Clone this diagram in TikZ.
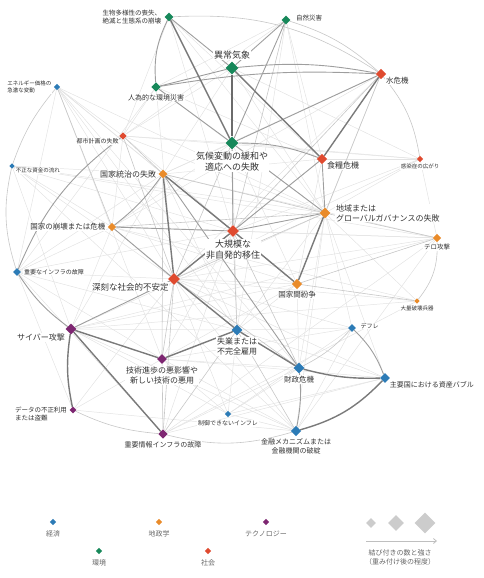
\documentclass[tikz,border=0pt]{standalone}
\usepackage{fontspec}
\setmainfont{Noto Sans CJK JP}
\usetikzlibrary{positioning, arrows.meta, shapes.geometric, backgrounds}
\definecolor{ecoc}{HTML}{2C7BB6}
\definecolor{envc}{HTML}{17885A}
\definecolor{geoc}{HTML}{E98B2A}
\definecolor{socc}{HTML}{DF4A2F}
\definecolor{tecc}{HTML}{7D2671}

\begin{document}
\begin{tikzpicture}[x=1pt, y=1pt,
    risk/.style={diamond, inner sep=0pt, minimum size=#1},
    lab/.style={text=black!80, fill=white, inner sep=0.6pt, align=center},
    keytext/.style={text=black!60, inner sep=0pt, align=center, font=\fontsize{7}{9.5}\selectfont},
    t9/.style={font=\fontsize{9}{11}\selectfont},
    t85/.style={font=\fontsize{8.5}{10.5}\selectfont},
    t8/.style={font=\fontsize{8}{10}\selectfont},
    t75/.style={font=\fontsize{7.5}{9.5}\selectfont},
    t7/.style={font=\fontsize{7}{9}\selectfont},
    t65/.style={font=\fontsize{6.5}{8.5}\selectfont},
    t6/.style={font=\fontsize{6}{8}\selectfont},
    t55/.style={font=\fontsize{5.5}{7.5}\selectfont},
    e1/.style={draw=black!11, line width=0.5pt},
    e2/.style={draw=black!22, line width=0.6pt},
    e3/.style={draw=black!38, line width=0.9pt},
    e4/.style={draw=black!52, line width=1.4pt},
  ]
  \useasboundingbox (0,0) rectangle (483,-578);

  % risks
  \node[risk=9pt, fill=envc]    (bio) at (169,-17)  {};
  \node[risk=9pt, fill=envc]    (nat) at (286,-20)  {};
  \node[risk=13pt, fill=envc]   (wea) at (232,-68)  {};
  \node[risk=9.5pt, fill=envc]  (man) at (156,-87)  {};
  \node[risk=10.5pt, fill=socc] (wat) at (381,-74)  {};
  \node[risk=6.5pt, fill=ecoc]  (ene) at (57,-87)   {};
  \node[risk=7.5pt, fill=socc]  (urb) at (123,-136) {};
  \node[risk=13pt, fill=envc]   (cli) at (232,-143) {};
  \node[risk=10.5pt, fill=socc] (foo) at (322,-159) {};
  \node[risk=6.5pt, fill=socc]  (inf) at (420,-159) {};
  \node[risk=5.5pt, fill=ecoc]  (ill) at (12,-166)  {};
  \node[risk=9pt, fill=geoc]    (gov) at (163,-174) {};
  \node[risk=11pt, fill=geoc]   (glo) at (325,-213) {};
  \node[risk=8.5pt, fill=geoc]  (sta) at (112,-227) {};
  \node[risk=12pt, fill=socc]   (mig) at (233,-231) {};
  \node[risk=8.5pt, fill=geoc]  (ter) at (437,-238) {};
  \node[risk=8pt, fill=ecoc]    (cri) at (17,-272)  {};
  \node[risk=12pt, fill=socc]   (soc) at (174,-279) {};
  \node[risk=10.5pt, fill=geoc] (int) at (297,-284) {};
  \node[risk=5.5pt, fill=geoc]  (wmd) at (417,-301) {};
  \node[risk=8pt, fill=ecoc]    (def) at (352,-328) {};
  \node[risk=11pt, fill=tecc]   (cyb) at (71,-329)  {};
  \node[risk=11pt, fill=ecoc]   (une) at (237,-330) {};
  \node[risk=10pt, fill=tecc]   (tec) at (162,-359) {};
  \node[risk=11pt, fill=ecoc]   (fis) at (299,-368) {};
  \node[risk=10pt, fill=ecoc]   (bub) at (385,-378) {};
  \node[risk=7pt, fill=tecc]    (dat) at (73,-410)  {};
  \node[risk=6.5pt, fill=ecoc]  (uin) at (228,-414) {};
  \node[risk=9.5pt, fill=tecc]  (cii) at (163,-434) {};
  \node[risk=10.5pt, fill=ecoc] (fin) at (296,-431) {};

  % labels
  \node[lab, t65, left=2.5pt of bio, align=right] (bio-l) {生物多様性の喪失、\\絶滅と生態系の崩壊};
  \node[lab, t65, right=4.5pt of nat, yshift=2pt] (nat-l) {自然災害};
  \node[lab, t9, above=1.5pt of wea] (wea-l) {異常気象};
  \node[lab, t7, below=1.5pt of man] (man-l) {人為的な環境災害};
  \node[lab, t75, below right=0pt and 1.5pt of wat] (wat-l) {水危機};
  \node[lab, t55, left=1.5pt of ene, align=left] (ene-l) {エネルギー価格の\\急激な変動};
  \node[lab, t6, below left=0pt and 1.5pt of urb] (urb-l) {都市計画の失敗};
  \node[lab, t9, below=1.5pt of cli] (cli-l) {気候変動の緩和や\\適応への失敗};
  \node[lab, t8, below right=-1pt and 1.5pt of foo] (foo-l) {食糧危機};
  \node[lab, t55, below=1pt of inf] (inf-l) {感染症の広がり};
  \node[lab, t55, below right=0pt and 1.5pt of ill] (ill-l) {不正な資金の流れ};
  \node[lab, t8, left=1.5pt of gov] (gov-l) {国家統治の失敗};
  \node[lab, t8, right=4.5pt of glo, align=left] (glo-l) {地域または\\グローバルガバナンスの失敗};
  \node[lab, t75, left=1.5pt of sta] (sta-l) {国家の崩壊または危機};
  \node[lab, t9, below=1.5pt of mig] (mig-l) {大規模な\\非自発的移住};
  \node[lab, t65, below=1pt of ter] (ter-l) {テロ攻撃};
  \node[lab, t6, right=2pt of cri] (cri-l) {重要なインフラの故障};
  \node[lab, t85, below left=0pt and 1.5pt of soc] (soc-l) {深刻な社会的不安定};
  \node[lab, t75, below=1pt of int] (int-l) {国家間紛争};
  \node[lab, t55, below=1pt of wmd] (wmd-l) {大量破壊兵器};
  \node[lab, t6, right=3.5pt of def, yshift=2pt] (def-l) {デフレ};
  \node[lab, t8, below left=1pt and 2.5pt of cyb] (cyb-l) {サイバー攻撃};
  \node[lab, t8, below=1pt of une] (une-l) {失業または\\不完全雇用};
  \node[lab, t8, below=1.5pt of tec] (tec-l) {技術進歩の悪影響や\\新しい技術の悪用};
  \node[lab, t75, below=1.5pt of fis] (fis-l) {財政危機};
  \node[lab, t7, below right=0pt and 1.5pt of bub] (bub-l) {主要国における資産バブル};
  \node[lab, t65, left=1.5pt of dat, yshift=-4pt, align=left] (dat-l) {データの不正利用\\または盗難};
  \node[lab, t6, below=2.5pt of uin] (uin-l) {制御できないインフレ};
  \node[lab, t7, below=1.5pt of cii] (cii-l) {重要情報インフラの故障};
  \node[lab, t7, below=1.5pt of fin] (fin-l) {金融メカニズムまたは\\金融機関の破綻};

  % links
  \begin{scope}[on background layer]
    \foreach \a/\b in {bio/foo, bio/mig, bio/glo, bio/urb, nat/man, nat/foo, nat/urb,
        nat/glo, nat/une, wea/mig, wea/glo, wea/urb, wea/inf, wea/gov, wat/int, wat/soc,
        wat/gov, wat/sta, man/urb, man/glo, man/soc, man/cri, man/foo, ene/urb, ene/gov,
        ene/soc, ene/mig, ene/glo, ene/fis, ene/une, ene/cri, ene/tec, urb/mig, urb/sta,
        urb/cli, urb/glo, urb/inf, cli/sta, cli/int, cli/une, cli/inf, cli/gov, foo/soc,
        foo/inf, foo/int, foo/gov, inf/glo, inf/mig, inf/soc, inf/ter, ill/gov, ill/sta,
        ill/soc, ill/glo, ill/ter, ill/fin, ill/cyb, ill/mig, gov/une, gov/ter, gov/cri,
        gov/cyb, glo/wmd, glo/fis, glo/une, glo/fin, glo/cyb, sta/int, sta/ter, sta/cri,
        sta/une, sta/cyb, sta/wmd, mig/ter, mig/cii, mig/tec, ter/cyb, ter/soc, ter/cii,
        ter/fin, int/soc, int/fis, int/cyb, int/une, int/tec, wmd/soc, wmd/cyb, wmd/cii,
        def/une, def/fin, def/soc, def/glo, def/tec, cyb/une, cyb/fin, cyb/uin, une/uin,
        une/bub, tec/fin, tec/dat, tec/uin, tec/fis, fis/uin, fis/cii, bub/soc, bub/uin,
        bub/glo, bub/cii, bub/tec, dat/fin, dat/soc, dat/cri, uin/fin, uin/soc, uin/def,
        cri/cii, cri/soc, cri/tec, cri/une, cri/mig, fin/soc}
      \draw[e1] (\a) -- (\b);
    \foreach \a/\b in {wat/mig, wat/glo, gov/glo, gov/int, gov/tec, sta/glo, soc/cii,
        soc/fis, soc/tec, glo/soc, cli/soc, une/cii, une/fin, tec/cii, mig/une, mig/fis,
        glo/ter, int/ter, int/wmd, urb/soc, urb/gov, ene/sta, nat/mig}
      \draw[e2] (\a) -- (\b);
    \draw[e2] (ter) to[bend left=20] (wmd);
    \draw[e2] (def) to[bend left=10] (fis);
    \draw[e2] (cii) to[bend right=15] (fin);
    \draw[e2] (dat) to[bend right=10] (cii);
    \draw[e2] (bio) to[bend left=18] (wat);
    \draw[e2] (nat) to[bend left=12] (wat);
    \draw[e2] (wat) to[bend left=15] (inf);
    \draw[e2] (ill) to[bend right=15] (cri);
    \draw[e2] (ene) to[bend right=10] (ill);
    \foreach \a/\b in {bio/wea, nat/cli, nat/wea, wat/cli, man/cli, man/wea, cli/mig,
        cli/glo, sta/mig, sta/soc, glo/mig, gov/fis, cyb/soc, foo/mig, glo/foo}
      \draw[e3] (\a) -- (\b);
    \draw[e3] (bio) to[bend right=15] (man);
    \draw[e3] (wat) to[bend right=8] (wea);
    \draw[e3] (wat) to[bend right=6] (man);
    \draw[e3] (cli) to[bend left=10] (foo);
    \draw[e3] (gov) to[bend left=8] (sta);
    \draw[e3] (cri) to[bend right=10] (cyb);
    \draw[e3] (urb) to[bend right=15] (cri);
    \draw[e3] (fis) to[bend left=8] (fin);
    \draw[e3] (def) to[bend left=12] (bub);
    \foreach \a/\b in {bio/cli, wea/foo, wat/foo, gov/mig, gov/soc, mig/soc, mig/int,
        glo/int, soc/une, cyb/cii, cyb/tec, tec/une, une/fis}
      \draw[e4] (\a) -- (\b);
    \draw[e4] (fis) to[bend right=8] (bub);
    \draw[e4] (bub) to[bend left=15] (fin);
    \draw[e4] (cyb) to[bend right=10] (dat);
    \draw[draw=black!58, line width=2.6pt] (wea) -- (cli);
  \end{scope}

  % legend
  \node[risk=6.5pt, fill=ecoc] (k-eco) at (53,-522)  {};
  \node[risk=6.5pt, fill=geoc] (k-geo) at (159,-522) {};
  \node[risk=6.5pt, fill=tecc] (k-tec) at (266,-522) {};
  \node[risk=6.5pt, fill=envc] (k-env) at (99,-551)  {};
  \node[risk=6.5pt, fill=socc] (k-soc) at (208,-551) {};
  \node[keytext, below=5pt of k-eco] (k-eco-l) {経済};
  \node[keytext, below=5pt of k-geo] (k-geo-l) {地政学};
  \node[keytext, below=5pt of k-tec] (k-tec-l) {テクノロジー};
  \node[keytext, below=5pt of k-env] (k-env-l) {環境};
  \node[keytext, below=5pt of k-soc] (k-soc-l) {社会};
  \node[risk=10pt, fill=black!20] (k-s1) at (371,-523) {};
  \node[risk=16pt, fill=black!20] (k-s2) at (396,-523) {};
  \node[risk=21pt, fill=black!20] (k-s3) at (425,-523) {};
  \coordinate (k-a0) at (366,-541);
  \coordinate (k-a1) at (437,-541);
  \draw[-{Straight Barb[length=3pt, width=5pt]}, draw=black!25, line width=0.8pt] (k-a0) -- (k-a1);
  \node[keytext] (k-txt) at (400,-557.5) {結び付きの数と強さ\\（重み付け後の程度）};
\end{tikzpicture}
\end{document}
